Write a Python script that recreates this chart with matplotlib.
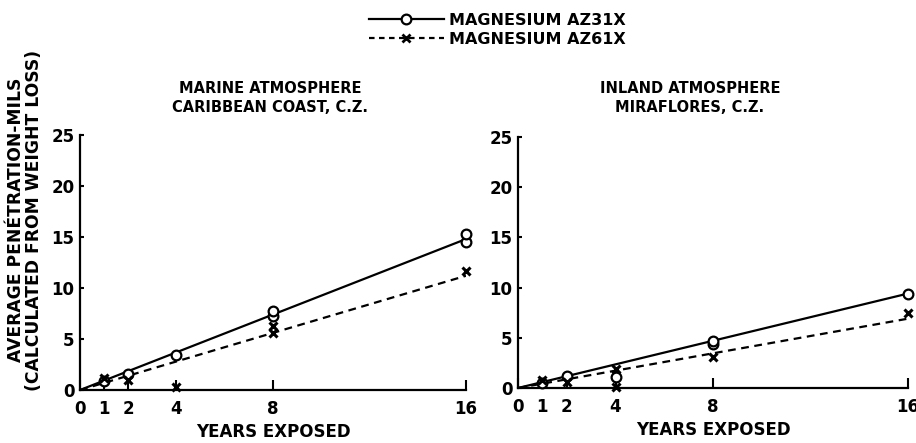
import matplotlib
matplotlib.use('Agg')
import matplotlib.pyplot as plt
from matplotlib.lines import Line2D

# measured points (years exposed, penetration in mils)
marine_az31_x = [1, 2, 4, 8, 8, 16, 16]
marine_az31_y = [0.9, 1.6, 3.4, 7.3, 7.7, 14.5, 15.3]
marine_az61_x = [1, 2, 4, 8, 8, 16]
marine_az61_y = [1.2, 1.0, 0.3, 5.6, 6.3, 11.7]

inland_az31_x = [1, 2, 4, 8, 8, 16]
inland_az31_y = [0.5, 1.2, 1.1, 4.4, 4.7, 9.4]
inland_az61_x = [1, 2, 4, 4, 8, 16]
inland_az61_y = [0.8, 0.6, 0.1, 1.9, 3.1, 7.5]

# straight trend lines drawn through the data
trend_years = [0, 16]
marine_az31_fit = [0, 14.8]
marine_az61_fit = [0, 11.2]
inland_az31_fit = [0, 9.4]
inland_az61_fit = [0, 6.9]

xticks = [0, 1, 2, 4, 8, 16]
yticks = [0, 5, 10, 15, 20, 25]

plt.rcParams['font.family'] = 'DejaVu Sans'
plt.rcParams['font.weight'] = 'bold'

fig = plt.figure(figsize=(9.16, 4.43), dpi=100)
ax1 = fig.add_axes([0.0873, 0.1196, 0.4214, 0.5756])
ax2 = fig.add_axes([0.5655, 0.1242, 0.4258, 0.567])

panels = [
    (ax1, marine_az31_x, marine_az31_y, marine_az61_x, marine_az61_y,
     marine_az31_fit, marine_az61_fit),
    (ax2, inland_az31_x, inland_az31_y, inland_az61_x, inland_az61_y,
     inland_az31_fit, inland_az61_fit),
]

for ax, x31, y31, x61, y61, fit31, fit61 in panels:
    ax.plot(trend_years, fit31, color='black', lw=1.6, solid_capstyle='butt')
    ax.plot(trend_years, fit61, color='black', lw=1.6, linestyle=(0, (3.5, 2.5)))
    ax.plot(x31, y31, 'o', color='black', mfc='white', mew=1.6, ms=7,
            clip_on=False, zorder=5)
    ax.plot(x61, y61, 'x', color='black', mew=2.2, ms=6,
            clip_on=False, zorder=6)

    ax.set_xlim(0, 16)
    ax.set_ylim(0, 25)
    ax.set_xticks(xticks)
    ax.set_yticks(yticks)
    ax.spines['top'].set_visible(False)
    ax.spines['right'].set_visible(False)
    ax.spines['left'].set_linewidth(1.6)
    ax.spines['bottom'].set_linewidth(1.6)
    ax.tick_params(axis='x', direction='in', length=7, width=1.5,
                   labelsize=12, pad=7)
    ax.tick_params(axis='y', direction='in', length=3, width=1.5,
                   labelsize=12, pad=4)
    ax.set_xlabel('YEARS EXPOSED', fontsize=12, fontweight='bold', labelpad=4)

fig.text(270 / 916, 1 - 98 / 443, 'MARINE ATMOSPHERE\nCARIBBEAN COAST, C.Z.',
         ha='center', va='center', fontsize=10.5, fontweight='bold', linespacing=1.35)
fig.text(690 / 916, 1 - 98 / 443, 'INLAND ATMOSPHERE\nMIRAFLORES, C.Z.',
         ha='center', va='center', fontsize=10.5, fontweight='bold', linespacing=1.35)

fig.text(25 / 916, 1 - 220 / 443,
         'AVERAGE PENÉTRATION-MILS\n(CALCULATED FROM WEIGHT LOSS)',
         rotation=90, ha='center', va='center', fontsize=12.3,
         fontweight='bold', linespacing=1.0)

handles = [
    Line2D([], [], color='black', lw=1.6, marker='o', mfc='white', mew=1.6, ms=7),
    Line2D([], [], color='black', lw=1.6, linestyle=(0, (2.5, 2)),
           marker='x', mew=2, ms=6),
]
fig.legend(handles, ['MAGNESIUM AZ31X', 'MAGNESIUM AZ61X'],
           loc='center', bbox_to_anchor=(497 / 916, 1 - 30 / 443),
           frameon=False, handlelength=4.7, handletextpad=0.3,
           labelspacing=0.25, fontsize=11.5, numpoints=1)

fig.savefig('out.png', dpi=100)
plt.close()
